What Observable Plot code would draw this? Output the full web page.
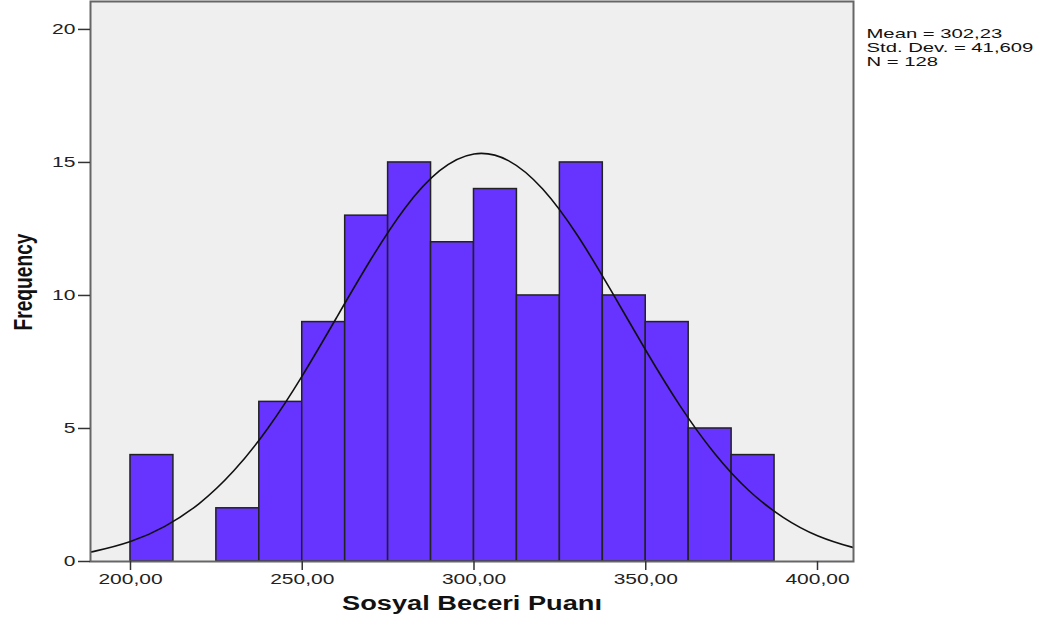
<!DOCTYPE html>
<html>
<head>
<meta charset="utf-8">
<script src="https://cdn.jsdelivr.net/npm/d3@7"></script>
<script src="https://cdn.jsdelivr.net/npm/@observablehq/plot@0.6"></script>
<style>
  html, body { margin: 0; padding: 0; background: #fff; }
  #chart svg { display: block; }
</style>
</head>
<body>
<div id="chart"></div>
<script>
// Histogram bins (lower edge) and frequencies
const binLower = [200, 212.5, 225, 237.5, 250, 262.5, 275, 287.5, 300, 312.5, 325, 337.5, 350, 362.5, 375];
const counts   = [4,   0,     2,   6,     9,   13,    15,  12,    14,  10,    15,  10,    9,   5,     4];
const binWidth = 12.5;

// Fitted normal curve
const curveX = [185, 190, 200, 210, 220, 230, 240, 250, 260, 270, 280, 290, 300, 310, 320, 330, 340, 350, 360, 370, 380, 390, 400, 410, 415];
const curveY = [0.29, 0.40, 0.75, 1.32, 2.18, 3.40, 5.01, 6.98, 9.17, 11.36, 13.30, 14.69, 15.32, 15.07, 14.00, 12.28, 10.16, 7.94, 5.85, 4.07, 2.67, 1.66, 0.97, 0.54, 0.39];

const xTicks = [200, 250, 300, 350, 400];
const yTicks = [0, 5, 10, 15, 20];
const statsLines = ["Mean = 302,23", "Std. Dev. = 41,609", "N = 128"];
const xLabel = "Sosyal Beceri Puanı";
const yLabel = "Frequency";

const bars = binLower.map((b, i) => ({x1: b, x2: b + binWidth, y: counts[i]})).filter(d => d.y > 0);
const curve = curveX.map((x, i) => ({x, y: curveY[i]}));

const fmt = d => d3.format(".2f")(d).replace(".", ",");

const chart = Plot.plot({
  width: 1040,
  height: 627,
  marginLeft: 90,
  marginRight: 187,
  marginTop: 1,
  marginBottom: 66,
  style: {fontFamily: "'Liberation Sans', Arial, sans-serif", fontSize: "14px", color: "#222", background: "#fff"},
  x: {domain: [188.36, 410.48]},
  y: {domain: [0, 21.05]},
  marks: [
    Plot.frame({fill: "#efefef", stroke: null}),
    Plot.rectY(bars, {x1: "x1", x2: "x2", y: "y", fill: "#6633ff", stroke: "#222", strokeWidth: 1.5}),
    Plot.line(curve, {x: "x", y: "y", curve: "natural", stroke: "#111", strokeWidth: 1.6, clip: true}),
    Plot.frame({stroke: "#666", strokeWidth: 2}),
    Plot.axisY({ticks: yTicks, tickSize: 12, tickPadding: 3, label: null, fontSize: 15, stroke: "#333", strokeWidth: 1.5}),
    Plot.axisX({ticks: xTicks, tickFormat: fmt, tickSize: 9, tickPadding: 3, label: null, fontSize: 15, stroke: "#333", strokeWidth: 1.5}),
    Plot.text([xLabel], {frameAnchor: "bottom", dy: 48, text: d => d, fontSize: 19.5, fontWeight: "bold", fill: "#111"}),
    Plot.text([yLabel], {frameAnchor: "left", dx: -67, dy: 49, rotate: -90, textAnchor: "start", text: d => d, fontSize: 25, fontWeight: "bold", fill: "#111"}),
    Plot.text([statsLines.join("\n")], {frameAnchor: "top-right", dx: 13, dy: 26, textAnchor: "start", lineAnchor: "top", lineHeight: 1.05, text: d => d, fontSize: 13.5, fill: "#111"})
  ]
});
document.getElementById("chart").appendChild(chart);

// The reference rendering is horizontally widened; stretch glyphs to match.
function stretchEl(e, k, fixed) {
  const L = e.getComputedTextLength();
  e.setAttribute("textLength", (fixed != null ? fixed : L * k).toFixed(1));
  e.setAttribute("lengthAdjust", "spacingAndGlyphs");
}
function stretchAll(nodes, k) {
  nodes.forEach(t => {
    const spans = t.querySelectorAll("tspan");
    (spans.length ? Array.from(spans) : [t]).forEach(e => stretchEl(e, k));
  });
}
stretchAll(chart.querySelectorAll('g[aria-label="x-axis tick label"] text'), 1.4);
stretchAll(chart.querySelectorAll('g[aria-label="y-axis tick label"] text'), 1.4);
const textGroups = chart.querySelectorAll('g[aria-label="text"]');
// order: x label, y label, stats
textGroups[0].querySelectorAll("text").forEach(t => stretchEl(t, 1, 260));
textGroups[1].querySelectorAll("text").forEach(t => stretchEl(t, 1, 97));
stretchAll(textGroups[2].querySelectorAll("text"), 1.5);
</script>
</body>
</html>
